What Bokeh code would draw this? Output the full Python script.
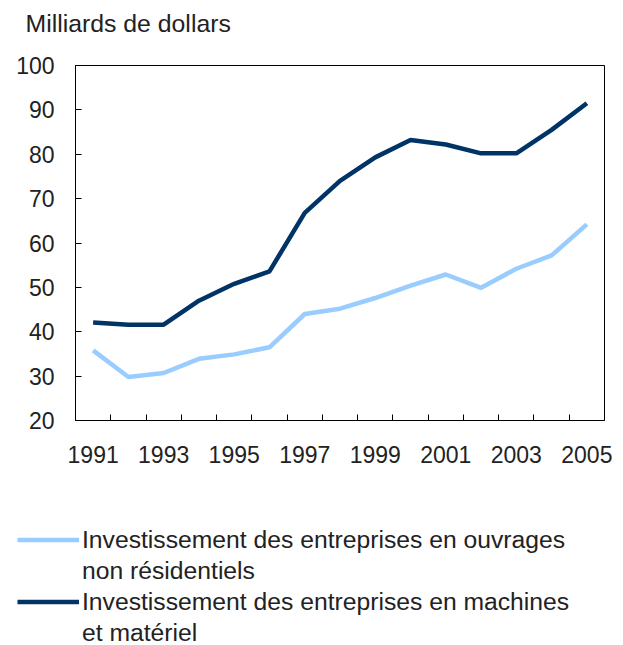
from bokeh.plotting import figure
from bokeh.models import Range1d, FixedTicker, Legend, LegendItem, ColumnDataSource, Label
from bokeh.embed import file_html
from bokeh.resources import INLINE

years = [1991, 1992, 1993, 1994, 1995, 1996, 1997, 1998, 1999, 2000, 2001, 2002, 2003, 2004, 2005]
ouvrages = [35.8, 29.8, 30.7, 33.9, 34.9, 36.5, 44.0, 45.2, 47.6, 50.4, 52.9, 49.9, 54.2, 57.2, 64.2]
machines = [42.1, 41.6, 41.6, 47.0, 50.8, 53.6, 66.8, 74.0, 79.3, 83.2, 82.2, 80.2, 80.2, 85.5, 91.5]
label_years = [1991, 1993, 1995, 1997, 1999, 2001, 2003, 2005]
boundaries = [y + 0.5 for y in years[:-1]]
y_ticks = [20, 30, 40, 50, 60, 70, 80, 90, 100]
labels = [["Investissement des entreprises en ouvrages", "non résidentiels"],
          ["Investissement des entreprises en machines", "et matériel"]]
colors = ["#99CCFF", "#003366"]
title_text = "Milliards de dollars"

FONT = "Liberation Sans"

# layout (pixels)
W, H = 623, 645
FL, FR, FT, FB = 75, 604, 65, 420

x0, x1 = years[0] - 0.5, years[-1] + 0.5
y0, y1 = y_ticks[0], y_ticks[-1]
pxu = (FR - FL) / (x1 - x0)
pyu = (FB - FT) / (y1 - y0)

src = ColumnDataSource(dict(year=years, ouvrages=ouvrages, machines=machines))

p = figure(output_backend="svg", toolbar_location=None,
           width=W, height=H, min_border=0,
           x_range=Range1d(x0 - FL / pxu, x1 + (W - FR) / pxu),
           y_range=Range1d(y0 - (H - FB) / pyu, y1 + FT / pyu))

p.xgrid.visible = False
p.ygrid.visible = False
p.outline_line_color = None
p.background_fill_color = "white"
p.border_fill_color = "white"

# chart box
p.quad(left=[x0], right=[x1], bottom=[y0], top=[y1],
       fill_color=None, line_color="black", line_width=1)

xa = p.xaxis[0]
xa.fixed_location = y0
xa.bounds = (x0, x1)
xa.ticker = FixedTicker(ticks=label_years, minor_ticks=boundaries)
xa.major_tick_in = 0
xa.major_tick_out = 0
xa.minor_tick_in = 6
xa.minor_tick_out = 0
xa.minor_tick_line_color = "black"
xa.axis_line_color = "black"
xa.major_label_text_font = FONT
xa.major_label_text_font_size = "23px"
xa.major_label_text_color = "#222222"
xa.major_label_standoff = 25

ya = p.yaxis[0]
ya.fixed_location = x0
ya.bounds = (y0, y1)
ya.ticker = FixedTicker(ticks=y_ticks)
ya.major_tick_in = 6
ya.major_tick_out = 0
ya.minor_tick_in = 0
ya.minor_tick_out = 0
ya.major_tick_line_color = "black"
ya.axis_line_color = "black"
ya.major_label_text_font = FONT
ya.major_label_text_font_size = "23px"
ya.major_label_text_color = "#222222"
ya.major_label_standoff = 21

r1 = p.line("year", "ouvrages", source=src, line_color=colors[0], line_width=4.5)
r2 = p.line("year", "machines", source=src, line_color=colors[1], line_width=4.5)

title = Label(x=25, y=H - 23, x_units="screen", y_units="screen", text=title_text,
              text_font=FONT, text_font_size="24.8px", text_color="#222222",
              text_align="left", text_baseline="middle")
p.add_layout(title)

items = []
for lab, r in zip(labels, [r1, r2]):
    items.append(LegendItem(label=lab[0], renderers=[r]))
    items.append(LegendItem(label=lab[1], renderers=[]))

legend = Legend(items=items, location=(17, -3))
legend.border_line_color = None
legend.background_fill_alpha = 0
legend.padding = 0
legend.margin = 0
legend.spacing = 0
legend.glyph_width = 62
legend.glyph_height = 31
legend.label_height = 31
legend.label_standoff = 3
legend.label_text_font = FONT
legend.label_text_font_size = "24.7px"
legend.label_text_color = "#222222"
legend.label_text_line_height = 1.2
p.add_layout(legend, "center")

open("out.html", "w").write(file_html(p, INLINE))
